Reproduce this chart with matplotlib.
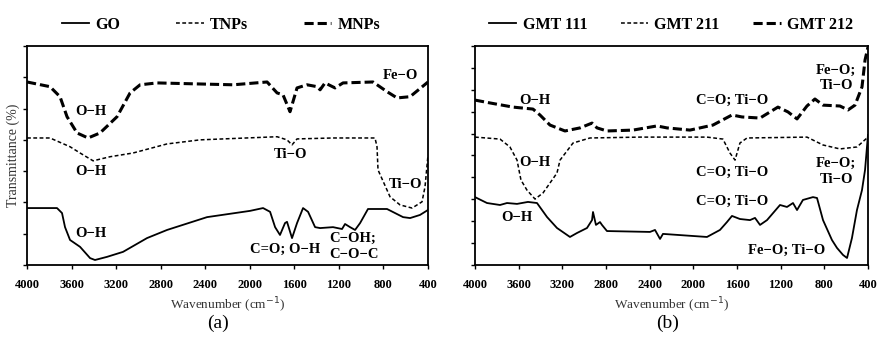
import matplotlib
matplotlib.use('Agg')
import matplotlib.pyplot as plt

plt.rcParams['font.family'] = ['Liberation Serif', 'DejaVu Serif']

# ---- panel (a) ----
go_wn = [4000, 3731, 3686, 3659, 3614, 3524, 3434, 3390, 3282, 3138, 2923, 2743, 2384, 1998,
         1881, 1818, 1773, 1729, 1684, 1666, 1621, 1576, 1522, 1477, 1414, 1369, 1253, 1172,
         1145, 1100, 1055, 1010, 939, 768, 624, 561, 472, 400]
go_t = [18.2, 18.2, 16.6, 12.1, 8.0, 5.8, 2.2, 1.6, 2.6, 4.2, 8.6, 11.2, 15.3, 17.3,
        18.2, 17.0, 12.1, 9.6, 13.4, 13.8, 8.6, 13.4, 18.2, 17.0, 12.1, 11.8, 12.1, 11.5,
        13.1, 12.1, 11.2, 13.4, 17.9, 17.9, 15.3, 15.0, 16.0, 17.6]

tnp_wn = [4000, 3794, 3614, 3524, 3407, 3255, 3048, 2743, 2447, 1755, 1666, 1621, 1576, 1253,
          876, 858, 849, 741, 651, 543, 454, 427, 400]
tnp_t = [40.6, 40.6, 37.8, 35.8, 33.3, 34.6, 35.8, 38.7, 40.0, 41.0, 40.0, 38.4, 40.3, 40.6,
         40.6, 37.8, 30.4, 21.8, 19.2, 18.2, 20.2, 25.0, 35.2]

mnp_wn = [4000, 3794, 3704, 3641, 3551, 3452, 3345, 3192, 3075, 2985, 2833, 2150, 1845, 1755,
          1702, 1639, 1576, 1486, 1396, 1369, 1325, 1235, 1163, 894, 768, 678, 561, 400]
mnp_t = [58.5, 57.0, 53.8, 47.4, 42.2, 40.6, 42.2, 47.4, 55.0, 57.6, 58.2, 57.6, 58.5, 55.0,
         54.4, 49.0, 56.6, 57.6, 57.0, 56.0, 58.2, 56.6, 58.2, 58.5, 55.4, 53.4, 53.8, 58.5]

# ---- panel (b) ----
g111_wn = [4000, 3890, 3771, 3707, 3615, 3515, 3432, 3340, 3249, 3130, 3066, 2974, 2928, 2919,
           2892, 2855, 2837, 2791, 2397, 2351, 2305, 2278, 1875, 1756, 1692, 1646, 1573, 1481,
           1435, 1389, 1325, 1206, 1142, 1087, 1050, 996, 904, 867, 812, 730, 684, 629, 592,
           547, 501, 455, 427, 400]
g111_t = [31.0, 28.3, 27.4, 28.3, 27.9, 28.8, 28.3, 21.9, 16.9, 12.8, 14.6, 16.9, 20.5, 24.2,
          18.3, 19.6, 18.3, 15.5, 15.1, 16.0, 11.9, 14.2, 12.8, 16.0, 19.6, 22.4, 21.0, 20.5,
          21.5, 18.3, 20.5, 27.4, 26.5, 28.3, 25.1, 29.7, 31.0, 30.6, 20.5, 11.4, 7.8, 4.6, 3.2,
          12.3, 25.1, 34.2, 43.4, 59.4]

g211_wn = [4000, 3771, 3680, 3615, 3579, 3524, 3450, 3377, 3249, 3221, 3102, 2947, 2489, 1875,
           1729, 1664, 1618, 1573, 1508, 959, 812, 657, 501, 400]
g211_t = [58.4, 57.5, 53.9, 47.9, 38.8, 34.2, 30.1, 32.9, 42.0, 47.9, 55.7, 58.0, 58.4, 58.4,
          57.5, 51.1, 47.9, 55.7, 58.0, 58.4, 54.8, 53.0, 53.9, 58.4]

g212_wn = [4000, 3863, 3652, 3469, 3405, 3313, 3176, 3038, 2928, 2882, 2791, 2553, 2333, 2241,
           2031, 1820, 1646, 1554, 1389, 1225, 1133, 1050, 959, 886, 812, 657, 583, 519, 455,
           427, 400]
g212_t = [75.3, 74.0, 72.1, 71.2, 68.5, 63.9, 61.2, 62.6, 64.8, 62.6, 61.2, 61.6, 63.5, 62.6,
          61.6, 63.9, 68.5, 67.6, 67.1, 72.1, 69.9, 66.7, 72.6, 75.8, 73.0, 72.6, 70.8, 73.0,
          81.3, 93.6, 99.5]

xticks = [4000, 3600, 3200, 2800, 2400, 2000, 1600, 1200, 800, 400]

solid = dict(color='black', lw=1.3, ls='-')
fine = dict(color='black', lw=1.1, ls=(0, (2.5, 1.6)))
heavy = dict(color='black', lw=2.2, ls=(0, (3.0, 1.3)))

lab = dict(fontsize=10.5, fontweight='bold', ha='center', va='center')

fig = plt.figure(figsize=(8.78, 3.4), dpi=100)
ax1 = fig.add_axes([0.0308, 0.2206, 0.4567, 0.6441])
ax2 = fig.add_axes([0.541, 0.2206, 0.4476, 0.6441])

ax1.plot(go_wn, go_t, label='GO', **solid)
ax1.plot(tnp_wn, tnp_t, label='TNPs', **fine)
ax1.plot(mnp_wn, mnp_t, label='MNPs', **heavy)
ax1.set_ylim(0, 70)
ax1.set_yticks(range(0, 71, 10))
ax1.set_ylabel('Transmittance (%)', fontsize=10, labelpad=2, color='#333333')

ax1.text(3425, 49, 'O\u2212H', **lab)
ax1.text(3425, 29.8, 'O\u2212H', **lab)
ax1.text(3425, 10.2, 'O\u2212H', **lab)
ax1.text(1639, 35.2, 'Ti\u2212O', **lab)
ax1.text(650, 60.5, 'Fe\u2212O', **lab)
ax1.text(606, 25.6, 'Ti\u2212O', **lab)
ax1.text(1684, 5.1, 'C=O; O\u2212H', **lab)
ax1.text(1290, 5.8, 'C\u2212OH;\nC\u2212O\u2212C', fontsize=10.5, fontweight='bold',
         ha='left', va='center', linespacing=1.3)

ax2.plot(g111_wn, g111_t, label='GMT 111', **solid)
ax2.plot(g211_wn, g211_t, label='GMT 211', **fine)
ax2.plot(g212_wn, g212_t, label='GMT 212', **heavy)
ax2.set_ylim(0, 100)
ax2.set_yticks(range(0, 101, 10))

ax2.text(3450, 75.3, 'O\u2212H', **lab)
ax2.text(1646, 75.3, 'C=O; Ti\u2212O', **lab)
ax2.text(693, 85.4, 'Fe\u2212O;\nTi\u2212O', linespacing=1.3, **lab)
ax2.text(3450, 46.6, 'O\u2212H', **lab)
ax2.text(1646, 42.5, 'C=O; Ti\u2212O', **lab)
ax2.text(693, 42.9, 'Fe\u2212O;\nTi\u2212O', linespacing=1.3, **lab)
ax2.text(1646, 29.2, 'C=O; Ti\u2212O', **lab)
ax2.text(3615, 21.5, 'O\u2212H', **lab)
ax2.text(1142, 6.8, 'Fe\u2212O; Ti\u2212O', **lab)

for ax, tag, tx, lx, cs in [(ax1, '(a)', 0.476, 0.484, 3.5), (ax2, '(b)', 0.49, 0.499, 2.1)]:
    ax.set_xlim(4000, 400)
    ax.set_xticks(xticks)
    ax.set_xticklabels([str(v) for v in xticks], fontsize=9, fontweight='bold')
    ax.tick_params(axis='x', length=3, pad=7, width=1)
    ax.tick_params(axis='y', length=3, width=1, labelleft=False)
    for s in ax.spines.values():
        s.set_linewidth(1.3)
    ax.set_xlabel('Wavenumber (cm$^{-1}$)', fontsize=9.5, labelpad=4, color='#333333')
    ax.text(tx, -0.265, tag, transform=ax.transAxes, fontsize=14, ha='center', va='center')
    ax.legend(loc='lower center', bbox_to_anchor=(lx, 1.03), ncol=3, frameon=False,
              prop={'size': 11.5, 'weight': 'bold'}, handlelength=1.7, handletextpad=0.4,
              columnspacing=cs, borderaxespad=0)

fig.savefig('out.png', dpi=100)
